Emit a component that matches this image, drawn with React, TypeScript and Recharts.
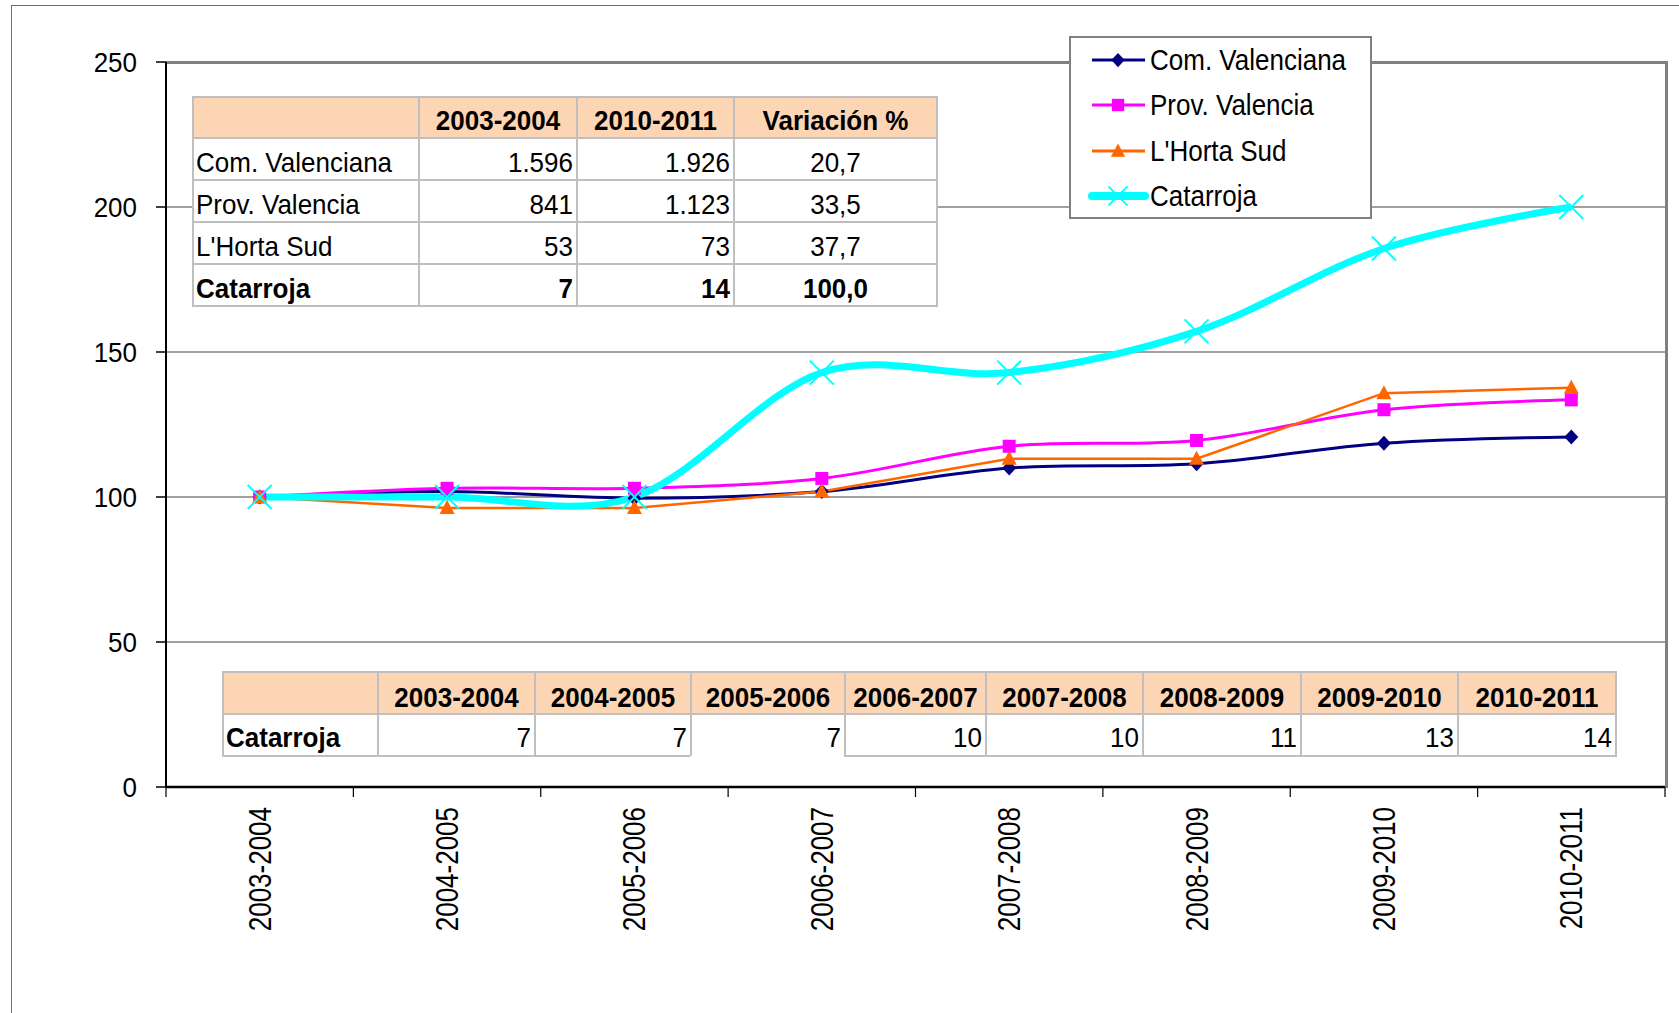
import React from 'react';
import { LineChart, Line, XAxis, YAxis, CartesianGrid, Legend } from 'recharts';

// ---------- data ----------
const categories = ['2003-2004', '2004-2005', '2005-2006', '2006-2007', '2007-2008', '2008-2009', '2009-2010', '2010-2011'];
const comValenciana = [100, 101.9, 99.6, 101.9, 110.0, 111.5, 118.5, 120.7];
const provValencia = [100, 103.0, 103.0, 106.4, 117.5, 119.5, 130.1, 133.5];
const hortaSud = [100, 96.2, 96.2, 101.9, 113.2, 113.2, 135.8, 137.7];
const catarroja = [100, 100, 100, 142.9, 142.9, 157.1, 185.7, 200.0];
const yTicks = [0, 50, 100, 150, 200, 250];

const summaryHeaders = ['', '2003-2004', '2010-2011', 'Variación %'];
const summaryNames = ['Com. Valenciana', 'Prov. Valencia', "L'Horta Sud", 'Catarroja'];
const summaryStart = [1596, 841, 53, 7];
const summaryEnd = [1926, 1123, 73, 14];
const summaryVariation = [20.7, 33.5, 37.7, 100.0];
const countsLabel = 'Catarroja';
const catarrojaCounts = [7, 7, 7, 10, 10, 11, 13, 14];

// ---------- layout ----------
const W = 1679;
const H = 1013;
const PLOT_L = 166;
const PLOT_R = 1665;
const PLOT_T = 62;
const PLOT_B = 787;
const BAND = (PLOT_R - PLOT_L) / categories.length;
const FONT = "'Liberation Sans', Arial, Helvetica, sans-serif";
const PEACH = '#FCD5B4';
const CELL_BORDER = '#BFBFBF';

const fmtInt = (n: number) => String(n).replace(/\B(?=(\d{3})+(?!\d))/g, '.');
const fmtDec = (n: number) => n.toFixed(1).replace('.', ',');

// ---------- custom smoothing curve (cardinal / Catmull-Rom, like Excel smoothing) ----------
function cardinalFactory(tension: number) {
  const k = (1 - tension) / 6;
  return (context: any) => {
    let x0 = NaN, y0 = NaN, x1 = NaN, y1 = NaN, x2 = NaN, y2 = NaN;
    let pt = 0;
    let ln: number = NaN;
    const seg = (x: number, y: number) => {
      context.bezierCurveTo(x1 + k * (x2 - x0), y1 + k * (y2 - y0), x2 + k * (x1 - x), y2 + k * (y1 - y), x2, y2);
    };
    return {
      areaStart() { ln = 0; },
      areaEnd() { ln = NaN; },
      lineStart() { x0 = x1 = x2 = y0 = y1 = y2 = NaN; pt = 0; },
      lineEnd() {
        if (pt === 2) context.lineTo(x2, y2);
        else if (pt === 3) seg(x1, y1);
        if (ln || (ln !== 0 && pt === 1)) context.closePath();
        ln = 1 - ln;
      },
      point(xx: number, yy: number) {
        const x = +xx, y = +yy;
        if (pt === 0) { pt = 1; if (ln) context.lineTo(x, y); else context.moveTo(x, y); }
        else if (pt === 1) { pt = 2; x1 = x; y1 = y; }
        else { if (pt === 2) pt = 3; seg(x, y); }
        x0 = x1; x1 = x2; x2 = x;
        y0 = y1; y1 = y2; y2 = y;
      },
    };
  };
}
const smooth = cardinalFactory(0);

type Kind = 'diamond' | 'square' | 'triangle' | 'x';
const series: { key: string; name: string; color: string; width: number; kind: Kind; curve: any }[] = [
  { key: 'com', name: 'Com. Valenciana', color: '#000080', width: 3, kind: 'diamond', curve: smooth },
  { key: 'prov', name: 'Prov. Valencia', color: '#FF00FF', width: 3, kind: 'square', curve: smooth },
  { key: 'horta', name: "L'Horta Sud", color: '#FF6600', width: 2.5, kind: 'triangle', curve: 'linear' },
  { key: 'cat', name: 'Catarroja', color: '#00FFFF', width: 7, kind: 'x', curve: smooth },
];

const chartData = categories.map((c, i) => ({
  cat: c,
  com: comValenciana[i],
  prov: provValencia[i],
  horta: hortaSud[i],
  cat2: catarroja[i],
}));
series[3].key = 'cat2';

function Marker({ kind, cx, cy, color, s = 1 }: { kind: Kind; cx: number; cy: number; color: string; s?: number }) {
  if (kind === 'diamond') {
    return <polygon points={`${cx},${cy - 7.5 * s} ${cx + 7 * s},${cy} ${cx},${cy + 7.5 * s} ${cx - 7 * s},${cy}`} fill={color} />;
  }
  if (kind === 'square') {
    return <rect x={cx - 6.5 * s} y={cy - 6.5 * s} width={13 * s} height={13 * s} fill={color} />;
  }
  if (kind === 'triangle') {
    return <polygon points={`${cx},${cy - 8 * s} ${cx + 7.5 * s},${cy + 6 * s} ${cx - 7.5 * s},${cy + 6 * s}`} fill={color} />;
  }
  const r = 12 * s;
  return (
    <g stroke={color} strokeWidth={2}>
      <line x1={cx - r} y1={cy - r} x2={cx + r} y2={cy + r} />
      <line x1={cx - r} y1={cy + r} x2={cx + r} y2={cy - r} />
    </g>
  );
}

const YTick = (props: any) => {
  const { x, y, payload } = props;
  return (
    <text
      transform={`translate(${x},${y}) scale(1,1.08)`}
      dy="0.36em"
      textAnchor="end"
      fontSize={26}
      fontFamily={FONT}
      fill="#000"
    >
      {payload.value}
    </text>
  );
};

const XTick = (props: any) => {
  const { x, y, payload, index } = props;
  const half = BAND / 2;
  return (
    <g>
      <line x1={x - half} x2={x - half} y1={y} y2={y + 10} stroke="#000" strokeWidth={1.2} />
      {index === categories.length - 1 && (
        <line x1={x + half} x2={x + half} y1={y} y2={y + 10} stroke="#000" strokeWidth={1.2} />
      )}
      <text
        transform={`translate(${x + 11},${y + 20}) rotate(-90) scale(1,1.23)`}
        textAnchor="end"
        fontSize={26}
        fontFamily={FONT}
        fill="#000"
      >
        {payload.value}
      </text>
    </g>
  );
};

const renderLegend = () => (
  <div
    style={{
      width: 303,
      height: 183,
      boxSizing: 'border-box',
      border: '2px solid #808080',
      background: '#fff',
      position: 'relative',
    }}
  >
    {series.map((s, i) => (
      <div
        key={s.key}
        style={{ position: 'absolute', left: 0, top: 22 + i * 45.3 - 20, height: 40, display: 'flex', alignItems: 'center' }}
      >
        <svg width={79} height={40} style={{ display: 'block' }}>
          <line x1={21} x2={74} y1={20} y2={20} stroke={s.color} strokeWidth={s.kind === 'x' ? 8 : 3} strokeLinecap={s.kind === 'x' ? 'round' : 'butt'} />
          <Marker kind={s.kind} cx={47} cy={20} color={s.color} s={s.kind === 'x' ? 0.8 : 0.95} />
        </svg>
        <span
          style={{
            display: 'inline-block',
            fontFamily: FONT,
            fontSize: 26,
            lineHeight: 1,
            color: '#000',
            transform: 'scaleY(1.12)',
            whiteSpace: 'nowrap',
          }}
        >
          {s.name}
        </span>
      </div>
    ))}
  </div>
);

type Cell = { c: number; r: number; text: string; align: 'left' | 'right' | 'center'; bold?: boolean; fill?: string; noBottom?: boolean; padTop?: number };

function GridTable({ cols, rows, cells }: { cols: number[]; rows: number[]; cells: Cell[] }) {
  return (
    <>
      {cells.map((cell, i) => {
        const left = cols[cell.c] - 1;
        const top = rows[cell.r] - 1;
        const width = cols[cell.c + 1] - cols[cell.c] + 2;
        const height = rows[cell.r + 1] - rows[cell.r] + 2;
        return (
          <div
            key={i}
            style={{
              position: 'absolute',
              left,
              top,
              width,
              height,
              boxSizing: 'border-box',
              border: `2px solid ${CELL_BORDER}`,
              borderBottomColor: cell.noBottom ? 'transparent' : CELL_BORDER,
              background: cell.fill || '#fff',
              display: 'flex',
              alignItems: 'center',
              justifyContent: cell.align === 'left' ? 'flex-start' : cell.align === 'right' ? 'flex-end' : 'center',
              paddingLeft: cell.align === 'left' ? 2 : 0,
              paddingRight: cell.align === 'right' ? 3 : 0,
              paddingTop: cell.padTop ?? 4,
              fontFamily: FONT,
              fontSize: 26,
              fontWeight: cell.bold ? 'bold' : 'normal',
              color: '#000',
            }}
          >
            <span style={{ display: 'inline-block', lineHeight: 1, transform: 'scaleY(1.08)', whiteSpace: 'nowrap' }}>{cell.text}</span>
          </div>
        );
      })}
    </>
  );
}

// top summary table geometry
const topCols = [193, 419, 577, 734, 937];
const topRows = [97, 138, 180, 222, 264, 306];
// bottom counts table geometry
const botCols = [223, 378, 535, 691, 845, 986, 1143, 1301, 1458, 1616];
const botRows = [672, 714, 756];

const topCells: Cell[] = [];
summaryHeaders.forEach((h, c) => topCells.push({ c, r: 0, text: h, align: 'center', bold: true, fill: PEACH, padTop: 5 }));
summaryNames.forEach((name, i) => {
  const bold = i === summaryNames.length - 1;
  topCells.push({ c: 0, r: i + 1, text: name, align: 'left', bold, padTop: 5 });
  topCells.push({ c: 1, r: i + 1, text: fmtInt(summaryStart[i]), align: 'right', bold, padTop: 5 });
  topCells.push({ c: 2, r: i + 1, text: fmtInt(summaryEnd[i]), align: 'right', bold, padTop: 5 });
  topCells.push({ c: 3, r: i + 1, text: fmtDec(summaryVariation[i]), align: 'center', bold, padTop: 5 });
});

const botCells: Cell[] = [];
botCells.push({ c: 0, r: 0, text: '', align: 'center', fill: PEACH });
categories.forEach((cat, i) => botCells.push({ c: i + 1, r: 0, text: cat, align: 'center', bold: true, fill: PEACH, padTop: 7 }));
botCells.push({ c: 0, r: 1, text: countsLabel, align: 'left', bold: true, padTop: 3 });
catarrojaCounts.forEach((v, i) =>
  botCells.push({ c: i + 1, r: 1, text: String(v), align: 'right', padTop: 3, noBottom: i === 2 })
);

export default function App() {
  return (
    <div style={{ position: 'absolute', left: 0, top: 0, width: W, height: H, overflow: 'hidden', background: '#fff' }}>
      {/* outer frame */}
      <div
        style={{
          position: 'absolute',
          left: 11,
          top: 5,
          width: W - 11,
          height: H - 5,
          boxSizing: 'border-box',
          borderTop: '1.5px solid #707070',
          borderLeft: '1.5px solid #707070',
        }}
      />
      {/* plot area border (top / right) */}
      <div
        style={{
          position: 'absolute',
          left: PLOT_L,
          top: PLOT_T - 1,
          width: PLOT_R - PLOT_L + 3,
          height: PLOT_B - PLOT_T + 2,
          boxSizing: 'border-box',
          borderTop: '3px solid #808080',
          borderRight: '3px solid #808080',
        }}
      />
      <div style={{ position: 'absolute', left: 0, top: 0 }}>
        <LineChart
          width={W}
          height={H}
          data={chartData}
          margin={{ top: PLOT_T, right: W - PLOT_R, bottom: H - PLOT_B - 200, left: PLOT_L - 80 }}
        >
          <CartesianGrid vertical={false} stroke="#808080" strokeWidth={1.5} />
          <XAxis
            dataKey="cat"
            type="category"
            scale="point"
            interval={0}
            height={200}
            padding={{ left: BAND / 2, right: BAND / 2 }}
            axisLine={{ stroke: '#000', strokeWidth: 2.5 }}
            tickLine={false}
            tickSize={0}
            tickMargin={0}
            tick={<XTick />}
          />
          <YAxis
            type="number"
            domain={[0, 250]}
            ticks={yTicks}
            interval={0}
            width={80}
            axisLine={{ stroke: '#000', strokeWidth: 2 }}
            tickLine={{ stroke: '#000', strokeWidth: 1.5 }}
            tickSize={10}
            tickMargin={19}
            tick={<YTick />}
          />
          <Legend
            layout="vertical"
            align="center"
            verticalAlign="middle"
            content={renderLegend}
            wrapperStyle={{ left: 1069, top: 36, width: 303, height: 183 }}
          />
          {series.map((s) => (
            <Line
              key={s.key}
              dataKey={s.key}
              name={s.name}
              type={s.curve}
              stroke={s.color}
              strokeWidth={s.width}
              isAnimationActive={false}
              activeDot={false}
              dot={(p: any) => <Marker key={`${s.key}-${p.index}`} kind={s.kind} cx={p.cx} cy={p.cy} color={s.color} />}
            />
          ))}
        </LineChart>
      </div>
      <GridTable cols={topCols} rows={topRows} cells={topCells} />
      <GridTable cols={botCols} rows={botRows} cells={botCells} />
    </div>
  );
}
